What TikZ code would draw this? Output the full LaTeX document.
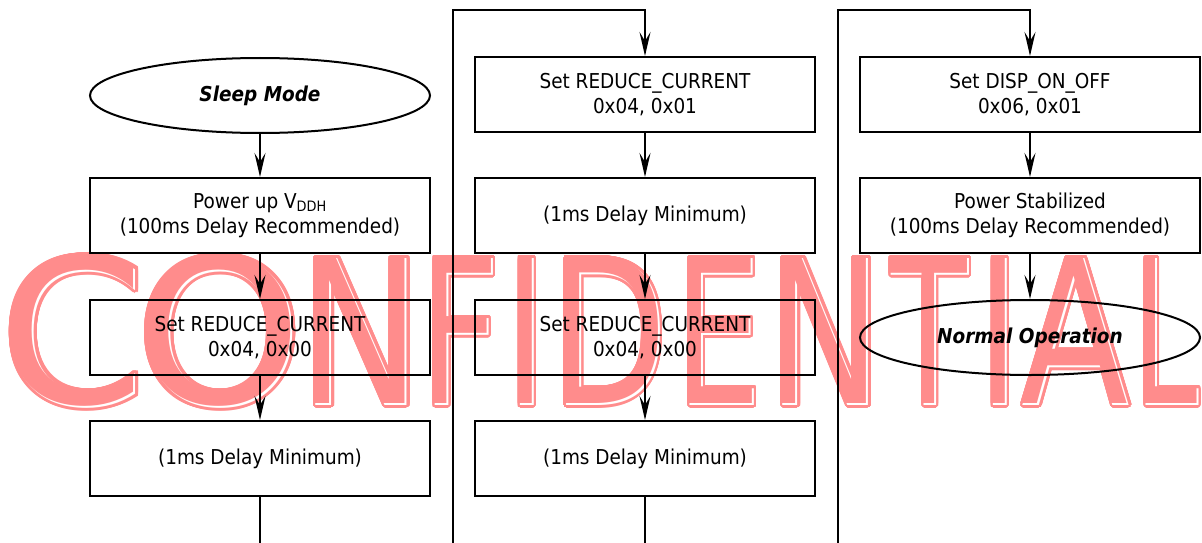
\documentclass[tikz,border=0pt]{standalone}
\usepackage{fontspec}
\setmainfont{DejaVu Sans}[FakeStretch=0.9]
\newfontfamily\wmfont{DejaVu Sans}
\usepackage{contour}
\contournumber{32}
\usetikzlibrary{shapes.geometric,arrows.meta}
\definecolor{wm}{RGB}{255,140,140}
\tikzset{
  box/.style={draw, line width=2pt, minimum width=340pt, minimum height=75pt,
    inner sep=0pt, align=center, font=\fontsize{20.5}{25}\selectfont},
  term/.style={ellipse, draw, line width=2pt, minimum width=340pt, minimum height=75pt,
    inner sep=0pt, font=\fontsize{20.5}{25}\selectfont\bfseries\itshape},
  conn/.style={line width=2pt, -{Stealth[length=24pt,width=11pt,inset=9pt]}},
  wire/.style={line width=2pt},
  wmtext/.style={inner sep=0pt, anchor=base,
    font=\wmfont\fontsize{201.6}{201.6}\selectfont}
}
\begin{document}
\begin{tikzpicture}[x=1pt,y=-1pt]
\useasboundingbox (0,0) rectangle (1202,543);
% watermark
\contourlength{3pt}
\foreach \ch/\cx/\sx [count=\i] in {C/74/1.04, O/220.2/1.06, N/361.8/0.82, F/461.4/0.69,
    I/527/0.7, D/610.1/0.76, E/719.9/0.68, N/826/0.77, T/930.3/0.63, I/1000/0.7,
    A/1076.2/0.79, L/1167.1/0.58}{
  \node[wmtext, xscale=\sx] (wmA\i) at (\cx,405) {\contour{wm}{\textcolor{white}{\ch}}};
  \node[wmtext, xscale=\sx, text=wm] (wmB\i) at (\cx-2,403) {\ch};
}
% column 1
\node[term] (sleep) at (260,95.5) {Sleep Mode};
\node[box] (a1) at (260,215.5) {Power up V\textsubscript{DDH}\\(100ms Delay Recommended)};
\node[box] (a2) at (260,337.5) {Set REDUCE\_CURRENT\\0x04, 0x00};
\node[box] (a3) at (260,458.5) {(1ms Delay Minimum)};
% column 2
\node[box] (b1) at (645,94.5) {Set REDUCE\_CURRENT\\0x04, 0x01};
\node[box] (b2) at (645,215.5) {(1ms Delay Minimum)};
\node[box] (b3) at (645,337.5) {Set REDUCE\_CURRENT\\0x04, 0x00};
\node[box] (b4) at (645,458.5) {(1ms Delay Minimum)};
% column 3
\node[box] (c1) at (1030,94.5) {Set DISP\_ON\_OFF\\0x06, 0x01};
\node[box] (c2) at (1030,215.5) {Power Stabilized\\(100ms Delay Recommended)};
\node[term] (c3) at (1030,337.5) {Normal Operation};
% loop coordinates
\coordinate (aend) at (260,543);
\coordinate (bend) at (645,543);
\coordinate (l1) at (453,543);
\coordinate (l1t) at (453,10);
\coordinate (l1r) at (645,10);
\coordinate (l2) at (838,543);
\coordinate (l2t) at (838,10);
\coordinate (l2r) at (1030,10);
% connectors
\draw[conn] (sleep) -- (a1);
\draw[conn] (a1) -- (a2);
\draw[conn] (a2) -- (a3);
\draw[wire] (a3) -- (aend);
\draw[conn] (l1) -- (l1t) -- (l1r) -- (b1);
\draw[conn] (b1) -- (b2);
\draw[conn] (b2) -- (b3);
\draw[conn] (b3) -- (b4);
\draw[wire] (b4) -- (bend);
\draw[conn] (l2) -- (l2t) -- (l2r) -- (c1);
\draw[conn] (c1) -- (c2);
\draw[conn] (c2) -- (c3);
\end{tikzpicture}
\end{document}
